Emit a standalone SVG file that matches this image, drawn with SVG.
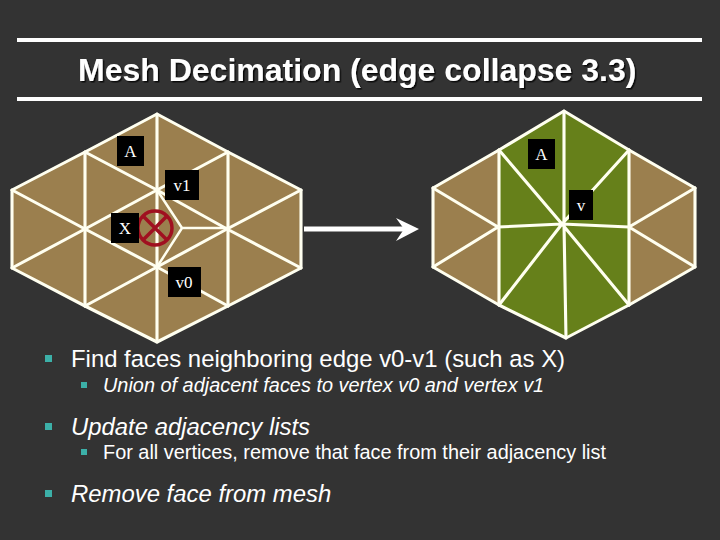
<svg xmlns="http://www.w3.org/2000/svg" width="720" height="540" viewBox="0 0 720 540">
<defs>
<filter id="sh" x="-5%" y="-20%" width="110%" height="140%"><feDropShadow dx="1.500" dy="1.500" stdDeviation="0.600" flood-color="#000" flood-opacity="0.800"/></filter>
</defs>
<style>
.e{stroke:#fffff0;stroke-width:3.100;fill:none;stroke-linecap:round;stroke-linejoin:round}
.thin{stroke-width:2.500}
.lb{fill:#000}
.lt{font-family:"Liberation Serif",serif;font-size:17px;fill:#fff;text-anchor:middle}
.t{font-family:"Liberation Sans",Arial,sans-serif;fill:#fff}
.l1{font-size:23.900px}
.l2{font-size:19.900px}
.i{font-style:italic}
.b{fill:#3cb0a8}
</style>
<rect width="720" height="540" fill="#333"/>
<g id="title">
<rect x="17" y="38" width="685" height="4" fill="#fff"/>
<rect x="17" y="97" width="685" height="4" fill="#fff"/>
<text class="t" x="78" y="81" font-size="32" font-weight="bold" filter="url(#sh)">Mesh Decimation (edge collapse 3.3)</text>
</g>
<g id="mesh-left">
<polygon points="157,114 228,152 301,190 301,268 228,306 157,342 85,306 12,268 12,190 85,152" fill="#9b7f4e"/>
<path class="e" d="M157,114L228,152L301,190V268L228,306L157,342L85,306L12,268V190L85,152Z"/>
<path class="e" d="M157,114V342M85,152V306M228,152V306"/>
<path class="e" d="M12,190L85,229L157,267L228,306M85,152L157,190L227,229L301,268M12,268L85,229L157,190L228,152M85,306L157,267L227,229L301,190"/>
<path class="e thin" d="M157,190L182,228L157,267M182,228H227"/>
</g>
<g id="mesh-right">
<polygon points="564,111 629,150 695,188 695,267 629,305 566,338 499,305 433,267 433,188 499,150" fill="#9b7f4e"/>
<polygon points="564,111 629,150 629,305 566,338 499,305 499,150" fill="#66801a"/>
<path class="e" d="M564,111L629,150L695,188V267L629,305L566,338L499,305L433,267V188L499,150Z"/>
<path class="e" d="M499,150V305M629,150V305M433,188L498,227L433,267M695,188L629,227L695,267"/>
<path class="e" d="M564,111V224L566,338M498,227L562,224L629,227M499,150L562,224L629,305M629,150L562,224L499,305"/>
</g>
<g id="connectors">
<path d="M304,229H404" stroke="#fff" stroke-width="5" fill="none"/>
<polygon points="396,218 419,229 396,241 404,229" fill="#fff"/>
</g>
<g id="face-x">
<circle cx="155" cy="228" r="17" fill="none" stroke="#a01020" stroke-width="3.500"/>
<path d="M143,216L167,240M167,216L143,240" stroke="#a01020" stroke-width="3.500"/>
</g>
<g id="label-a-left"><rect class="lb" x="117" y="136" width="27" height="30"/><text class="lt" x="130.500" y="157">A</text></g>
<g id="label-v1"><rect class="lb" x="165" y="170" width="34" height="30"/><text class="lt" x="182" y="191">v1</text></g>
<g id="label-x"><rect class="lb" x="111" y="213" width="28" height="30"/><text class="lt" x="125" y="234">X</text></g>
<g id="label-v0"><rect class="lb" x="168" y="267" width="33" height="30"/><text class="lt" x="184" y="288">v0</text></g>
<g id="label-a-right"><rect class="lb" x="528" y="139" width="27" height="30"/><text class="lt" x="541.500" y="160">A</text></g>
<g id="label-v"><rect class="lb" x="569" y="190" width="24" height="30"/><text class="lt" x="581" y="211">v</text></g>
<g id="bullets">
<rect class="b" x="45" y="355" width="7" height="7"/>
<text class="t l1" x="71" y="367">Find faces neighboring edge v0-v1 (such as X)</text>
<rect class="b" x="81" y="382" width="6" height="6"/>
<text class="t l2 i" x="103" y="392">Union of adjacent faces to vertex v0 and vertex v1</text>
<rect class="b" x="45" y="423" width="7" height="7"/>
<text class="t l1 i" x="71" y="435">Update adjacency lists</text>
<rect class="b" x="81" y="449" width="6" height="6"/>
<text class="t l2" x="103" y="459">For all vertices, remove that face from their adjacency list</text>
<rect class="b" x="45" y="490" width="7" height="7"/>
<text class="t l1 i" x="71" y="502">Remove face from mesh</text>
</g>
</svg>
